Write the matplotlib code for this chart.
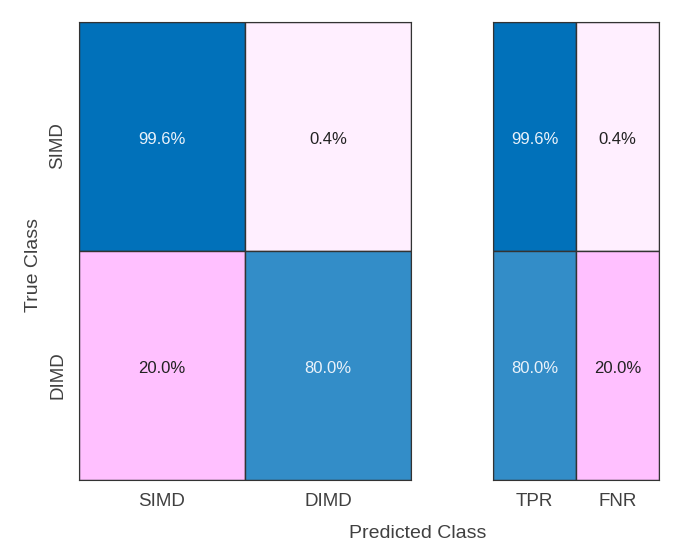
import numpy as np
import matplotlib.pyplot as plt
from matplotlib.colors import LinearSegmentedColormap

plt.rcParams['font.family'] = ['Liberation Sans', 'DejaVu Sans']

# Confusion matrix (row-normalised, %)
classes = ['SIMD', 'DIMD']
conf = np.array([[99.6, 0.4],
                 [20.0, 80.0]])
rate_labels = ['TPR', 'FNR']
tpr = [99.6, 80.0]
fnr = [0.4, 20.0]

blue = LinearSegmentedColormap.from_list('b', ['#ffffff', '#0070ba'])
pink = LinearSegmentedColormap.from_list('p', ['#fff0ff', '#ffc0ff'])


def cell_color(v, correct):
    if correct:
        return blue(v / 100.0)
    return pink(v / 20.0)


def draw(ax, vals, correct_mask):
    n_r, n_c = vals.shape
    for i in range(n_r):
        for j in range(n_c):
            v = vals[i, j]
            ok = correct_mask[i, j]
            ax.add_patch(plt.Rectangle((j, i), 1, 1, facecolor=cell_color(v, ok),
                                       edgecolor='#333333', linewidth=1.0))
            ax.text(j + 0.5, i + 0.515, f'{v:.1f}%', ha='center', va='center',
                    fontsize=12, color='#eaf2fa' if ok else '#222222')
    ax.set_xlim(0, n_c)
    ax.set_ylim(n_r, 0)
    for s in ax.spines.values():
        s.set_color('#333333')
    ax.tick_params(length=0, labelsize=13.5, colors='#404040', pad=9)


fig = plt.figure(figsize=(6.81, 5.55), dpi=100)
W, H = 681, 555
ax1 = fig.add_axes([79 / W, 1 - 480 / H, 332 / W, 458 / H])
ax2 = fig.add_axes([493 / W, 1 - 480 / H, 166 / W, 458 / H])

draw(ax1, conf, np.eye(2, dtype=bool))
ax1.set_xticks([0.5, 1.5])
ax1.set_xticklabels(classes)
ax1.set_yticks([0.54, 1.54])
ax1.set_yticklabels(classes, rotation=90, va='center')

rates = np.column_stack([tpr, fnr])
draw(ax2, rates, np.array([[True, False], [True, False]]))
ax2.set_xticks([0.5, 1.5])
ax2.set_xticklabels(rate_labels)
ax2.set_yticks([])

fig.text(33 / W, 1 - 265 / H, 'True Class', ha='center', va='center',
         rotation=90, fontsize=14, color='#404040')
fig.text(418 / W, 1 - 533 / H, 'Predicted Class', ha='center', va='center',
         fontsize=14, color='#404040')

fig.savefig('out.png', dpi=100)
